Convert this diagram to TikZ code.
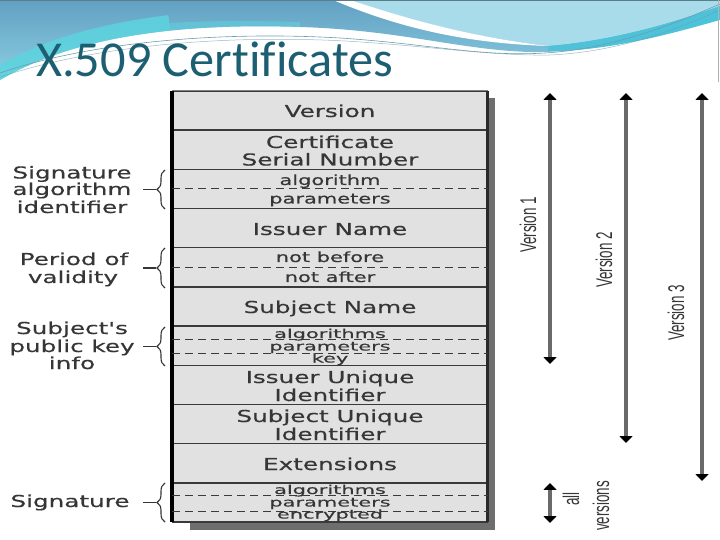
\documentclass[tikz,border=0pt]{standalone}
\usepackage{fontspec}
\setmainfont[FakeBold=0.35]{DejaVu Sans}
\newfontfamily\titlefont[Ligatures=NoCommon]{Carlito}
\newfontfamily\condfont{Liberation Sans}
\usetikzlibrary{arrows.meta,decorations.pathreplacing}
\definecolor{titlecol}{HTML}{1D5F72}
\definecolor{hdrA}{HTML}{62A0C2}
\definecolor{hdrB}{HTML}{8ACFE2}
\definecolor{hdrLight}{HTML}{A8DCEB}
\definecolor{hdrCyan}{HTML}{4EC2D9}
\definecolor{hdrTurq}{HTML}{5DD4DF}
\definecolor{hdrLine}{HTML}{6F9DAD}
\definecolor{cellfill}{HTML}{E1E1E1}
\definecolor{celldraw}{HTML}{3A3A3A}
\definecolor{txt}{HTML}{363636}
\definecolor{shadowcol}{HTML}{6E6E6E}
\definecolor{arrowcol}{HTML}{6A6A6A}
\newcommand{\widetxt}[1]{\scalebox{1.5}[1]{#1}}
\newcommand{\widertxt}[1]{\scalebox{1.72}[1]{#1}}
\newcommand{\condtxt}[1]{\scalebox{1.12}[1.9]{\condfont #1}}
\begin{document}
\begin{tikzpicture}[x=1bp,y=-1bp,
  cell/.style={rectangle,draw=celldraw,line width=1.4bp,fill=cellfill,minimum width=314bp,minimum height=39.18bp,inner sep=0pt},
  big/.style={anchor=base,inner sep=0pt,text=txt,font=\fontsize{16.5}{18}\selectfont},
  small/.style={anchor=base,inner sep=0pt,text=txt,font=\fontsize{14}{14}\selectfont},
  tiny/.style={anchor=base,inner sep=0pt,text=txt,font=\fontsize{12.2}{12}\selectfont},
  lab/.style={anchor=base,inner sep=0pt,text=txt,font=\fontsize{16.5}{18}\selectfont},
  dashsep/.style={draw=celldraw,line width=1.1bp,dash pattern=on 8bp off 5bp},
  bracesty/.style={draw=txt,line width=1.1bp,decorate,decoration={brace,amplitude=8bp,aspect=0.5}},
  tick/.style={draw=txt,line width=1.8bp},
  varrow/.style={draw=arrowcol,line width=3.5bp,{Triangle[width=13pt,length=7pt,color=black]}-{Triangle[width=13pt,length=7pt,color=black]}},
  vlab/.style={rotate=90,inner sep=0pt,text=txt,font=\fontsize{12}{12}\selectfont}]
\useasboundingbox (0,0) rectangle (720,540);
% ---------- header ----------
\shade[top color=hdrA,bottom color=hdrB] (0,0) -- (720,0) -- (720,10) .. controls (670,35) and (600,53) .. (530,52) .. controls (460,50) and (400,30) .. (300,27) .. controls (150,22) and (60,45) .. (0,80) -- cycle;
\begin{scope}
  \clip (0,0) -- (720,0) -- (720,10) .. controls (670,35) and (600,53) .. (530,52) .. controls (460,50) and (400,30) .. (300,27) .. controls (150,22) and (60,45) .. (0,80) -- cycle;
  \draw[hdrTurq,line width=26bp,opacity=.85] (0,80) .. controls (40,56) and (90,38) .. (170,28);
  \draw[hdrTurq,line width=10bp,opacity=.5] (170,28) .. controls (220,25) and (260,26) .. (300,27);
\end{scope}
\fill[hdrLight] (345,0) -- (720,0) -- (720,6) .. controls (660,28) and (600,42) .. (548,46) .. controls (460,35) and (400,18) .. (345,0) -- cycle;
\fill[hdrCyan] (720,6) .. controls (660,28) and (600,42) .. (548,46) -- (548,51) .. controls (610,51) and (670,34) .. (720,20) -- cycle;
\fill[white] (333,0) -- (350,0) .. controls (405,18) and (465,36) .. (548,46) .. controls (460,43) and (395,26) .. (333,0) -- cycle;
\draw[hdrLine,line width=.6bp] (0,73) .. controls (90,42) and (220,31) .. (340,38) .. controls (430,44) and (480,57) .. (545,53) .. controls (610,49) and (670,26) .. (720,4);
\draw[hdrLine,line width=.5bp,opacity=.7] (0,77) .. controls (100,44) and (230,35) .. (345,41) .. controls (430,46) and (490,56) .. (550,55) .. controls (620,52) and (680,28) .. (720,10);
\draw[hdrLine!80!black,line width=.8bp] (0,0.5) -- (720,0.5);
\draw[gray!60,line width=.6bp] (718.5,0) -- (718.5,82);
\node[anchor=base west,inner sep=0pt,text=titlecol,font=\titlefont\fontsize{50.5}{56}\selectfont] (title) at (36,77) {X.509 Certificates};
% ---------- shadow and cells ----------
\fill[shadowcol] (190,98) rectangle (495,530);
\node[cell] (r0) at (330,110.59) {};
\node[cell] (r1) at (330,149.77) {};
\node[cell] (r2) at (330,188.95) {};
\node[cell] (r3) at (330,228.13) {};
\node[cell] (r4) at (330,267.31) {};
\node[cell] (r5) at (330,306.49) {};
\node[cell] (r6) at (330,345.67) {};
\node[cell] (r7) at (330,384.85) {};
\node[cell] (r8) at (330,424.03) {};
\node[cell] (r9) at (330,463.21) {};
\node[cell] (r10) at (330,502.39) {};
\draw[gray,line width=1bp] (r0.north west) -- (r0.north east);
\draw[black,line width=4bp] ([yshift=-0.7bp]r0.north west) -- ([yshift=0.7bp]r10.south west);
\draw[celldraw!70!black,line width=3bp] ([yshift=-0.7bp]r0.north east) -- ([yshift=0.7bp]r10.south east);
% dashed separators
\draw[dashsep] (r2.west) -- (r2.east);
\draw[dashsep] (r4.west) -- (r4.east);
\draw[dashsep] ([yshift=-8bp]r6.west) -- ([yshift=-8bp]r6.east);
\draw[dashsep] ([yshift=6bp]r6.west) -- ([yshift=6bp]r6.east);
\draw[dashsep] ([yshift=-9bp]r10.west) -- ([yshift=-9bp]r10.east);
\draw[dashsep] ([yshift=7bp]r10.west) -- ([yshift=7bp]r10.east);
% cell texts
\node[big] (t0) at (330,117) {\widetxt{Version}};
\node[big] (t1a) at (330,148) {\widetxt{Certificate}};
\node[big] (t1b) at (330,165.5) {\widetxt{Serial Number}};
\node[small] (t2a) at (330,185) {\widetxt{algorithm}};
\node[small] (t2b) at (330,203.5) {\widetxt{parameters}};
\node[big] (t3) at (330,235) {\widetxt{Issuer Name}};
\node[small] (t4a) at (330,262) {\widetxt{not before}};
\node[small] (t4b) at (330,282) {\widetxt{not after}};
\node[big] (t5) at (330,313) {\widetxt{Subject Name}};
\node[tiny] (t6a) at (330,338) {\widertxt{algorithms}};
\node[tiny] (t6b) at (330,350.5) {\widertxt{parameters}};
\node[tiny] (t6c) at (330,362.5) {\widertxt{key}};
\node[big] (t7a) at (330,383) {\widetxt{Issuer Unique}};
\node[big] (t7b) at (330,401) {\widetxt{Identifier}};
\node[big] (t8a) at (330,422) {\widetxt{Subject Unique}};
\node[big] (t8b) at (330,440) {\widetxt{Identifier}};
\node[big] (t9) at (330,470) {\widetxt{Extensions}};
\node[tiny] (t10a) at (330,494) {\widertxt{algorithms}};
\node[tiny] (t10b) at (330,506.5) {\widertxt{parameters}};
\node[tiny] (t10c) at (330,518.5) {\widertxt{encrypted}};
% ---------- left labels ----------
\node[lab] (l1a) at (72,178.5) {\widetxt{Signature}};
\node[lab] (l1b) at (72,195) {\widetxt{algorithm}};
\node[lab] (l1c) at (72,213) {\widetxt{identifier}};
\node[lab] (l2a) at (74,265) {\widetxt{Period of}};
\node[lab] (l2b) at (73,283) {\widetxt{validity}};
\node[lab] (l3a) at (72,334) {\widetxt{Subject\textquotesingle s}};
\node[lab] (l3b) at (72,352) {\widetxt{public key}};
\node[lab] (l3c) at (72,369) {\widetxt{info}};
\node[lab] (l4) at (70,507) {\widetxt{Signature}};
% braces
\coordinate (b1t) at (165,170); \coordinate (b1b) at (165,209);
\coordinate (b2t) at (165,248); \coordinate (b2b) at (165,288);
\coordinate (b3t) at (165,327); \coordinate (b3b) at (165,366);
\coordinate (b4t) at (165,483); \coordinate (b4b) at (165,522);
\draw[bracesty] (b1b) -- (b1t);
\draw[bracesty] (b2b) -- (b2t);
\draw[bracesty] (b3b) -- (b3t);
\draw[bracesty] (b4b) -- (b4t);
\coordinate (k1a) at (143,189.5); \coordinate (k1b) at (156,189.5);
\coordinate (k2a) at (143,268); \coordinate (k2b) at (156,268);
\coordinate (k3a) at (143,346.5); \coordinate (k3b) at (156,346.5);
\coordinate (k4a) at (143,502.5); \coordinate (k4b) at (156,502.5);
\draw[tick] (k1a) -- (k1b);
\draw[tick] (k2a) -- (k2b);
\draw[tick] (k3a) -- (k3b);
\draw[tick] (k4a) -- (k4b);
% ---------- version arrows ----------
\coordinate (v1t) at (550,93); \coordinate (v1b) at (550,364);
\coordinate (v2t) at (626,93); \coordinate (v2b) at (626,443);
\coordinate (v3t) at (702,93); \coordinate (v3b) at (702,481);
\coordinate (vat) at (550,483); \coordinate (vab) at (550,523);
\draw[varrow] (v1t) -- (v1b);
\draw[varrow] (v2t) -- (v2b);
\draw[varrow] (v3t) -- (v3b);
\draw[varrow] (vat) -- (vab);
\node[vlab] (vl1) at (528,225) {\condtxt{Version 1}};
\node[vlab] (vl2) at (604,260) {\condtxt{Version 2}};
\node[vlab] (vl3) at (676,313) {\condtxt{Version 3}};
\node[vlab] (vla) at (571,499) {\condtxt{all}};
\node[vlab] (vlb) at (601,506) {\condtxt{versions}};
\end{tikzpicture}
\end{document}
